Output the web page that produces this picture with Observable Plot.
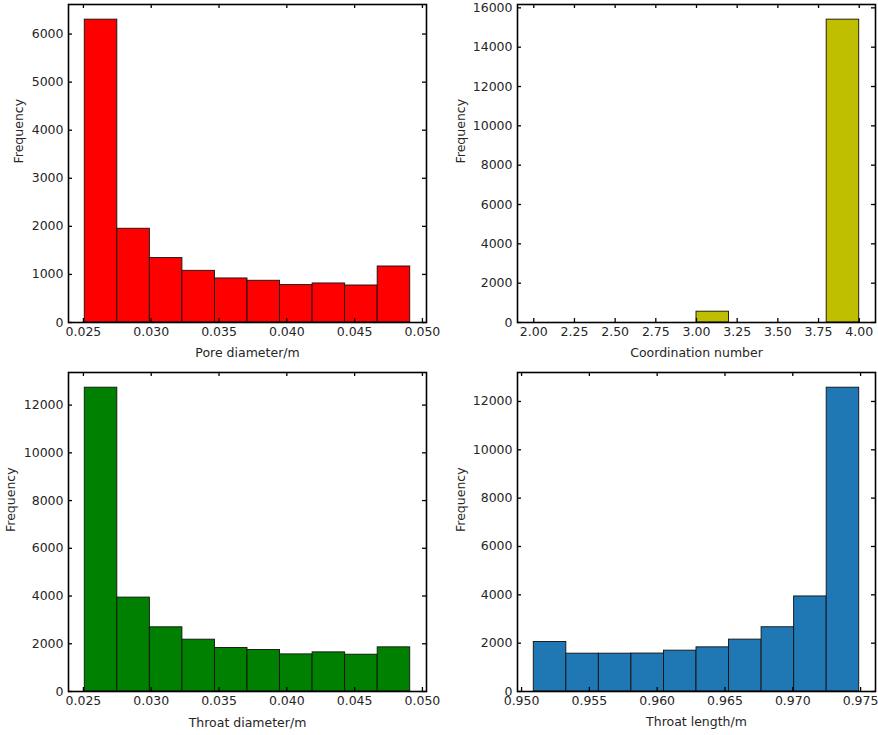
<!DOCTYPE html>
<html>
<head>
<meta charset="utf-8">
<script src="https://cdn.jsdelivr.net/npm/d3@7"></script>
<script src="https://cdn.jsdelivr.net/npm/@observablehq/plot@0.6"></script>
<style>
  html, body { margin: 0; padding: 0; background: #ffffff; }
  #wrap { position: relative; width: 878px; height: 735px; font-family: "DejaVu Sans", sans-serif; }
  #wrap svg { position: absolute; }
</style>
</head>
<body>
<div id="wrap"></div>
<script>
// ---- Data ----
const poreEdges = [0.0251, 0.0275, 0.0299, 0.0323, 0.0347, 0.0371, 0.0395, 0.0419, 0.0443, 0.0467, 0.0491];
const poreCounts = [6300, 1950, 1340, 1075, 916, 868, 778, 812, 770, 1165];
const poreXTicks = [0.025, 0.030, 0.035, 0.040, 0.045, 0.050];
const poreYTicks = [0, 1000, 2000, 3000, 4000, 5000, 6000];

const coordEdges = [2.0, 2.2, 2.4, 2.6, 2.8, 3.0, 3.2, 3.4, 3.6, 3.8, 4.0];
const coordCounts = [0, 0, 0, 0, 0, 550, 0, 0, 0, 15400];
const coordXTicks = [2.00, 2.25, 2.50, 2.75, 3.00, 3.25, 3.50, 3.75, 4.00];
const coordYTicks = [0, 2000, 4000, 6000, 8000, 10000, 12000, 14000, 16000];

const throatDiamEdges = [0.0251, 0.0275, 0.0299, 0.0323, 0.0347, 0.0371, 0.0395, 0.0419, 0.0443, 0.0467, 0.0491];
const throatDiamCounts = [12730, 3935, 2690, 2172, 1823, 1740, 1555, 1640, 1542, 1850];
const throatDiamXTicks = [0.025, 0.030, 0.035, 0.040, 0.045, 0.050];
const throatDiamYTicks = [0, 2000, 4000, 6000, 8000, 10000, 12000];

const throatLenEdges = [0.9509, 0.9533, 0.9557, 0.9581, 0.9605, 0.9629, 0.9653, 0.9677, 0.9701, 0.9725, 0.9749];
const throatLenCounts = [2050, 1565, 1565, 1570, 1690, 1827, 2147, 2658, 3933, 12570];
const throatLenXTicks = [0.950, 0.955, 0.960, 0.965, 0.970, 0.975];
const throatLenYTicks = [0, 2000, 4000, 6000, 8000, 10000, 12000];

const xLabels = ["Pore diameter/m", "Coordination number", "Throat diameter/m", "Throat length/m"];
const yLabel = "Frequency";

// ---- Layout ----
const panels = [
  {edges: poreEdges, counts: poreCounts, xTicks: poreXTicks, yTicks: poreYTicks, xFmt: ".3f", xLabel: xLabels[0],
   fill: "#ff0000", left: 0, top: 0, width: 439, height: 365, ml: 68, mr: 13, mt: 4, mb: 43, yLabelX: 18.4, xLabelDy: 30},
  {edges: coordEdges, counts: coordCounts, xTicks: coordXTicks, yTicks: coordYTicks, xFmt: ".2f", xLabel: xLabels[1],
   fill: "#bfbf00", left: 439, top: 0, width: 439, height: 365, ml: 78, mr: 3, mt: 4, mb: 43, yLabelX: 460.5, xLabelDy: 30},
  {edges: throatDiamEdges, counts: throatDiamCounts, xTicks: throatDiamXTicks, yTicks: throatDiamYTicks, xFmt: ".3f", xLabel: xLabels[2],
   fill: "#008000", left: 0, top: 365, width: 439, height: 370, ml: 68, mr: 13, mt: 7, mb: 44, yLabelX: 10.5, xLabelDy: 31},
  {edges: throatLenEdges, counts: throatLenCounts, xTicks: throatLenXTicks, yTicks: throatLenYTicks, xFmt: ".3f", xLabel: xLabels[3],
   fill: "#1f77b4", left: 439, top: 365, width: 439, height: 370, ml: 78, mr: 3, mt: 7, mb: 44, yLabelX: 460.5, xLabelDy: 30}
];

const textColor = "#262626";
const fontSize = 12.5;
const wrap = document.getElementById("wrap");

for (const p of panels) {
  const bins = p.counts.map((c, i) => ({x1: p.edges[i], x2: p.edges[i + 1], count: c})).filter(d => d.count > 0);
  const lo = p.edges[0], hi = p.edges[p.edges.length - 1];
  const pad = (hi - lo) * 0.05;
  const ymax = d3.max(p.counts) * 1.05;
  const fw = p.width - p.ml - p.mr;
  const fh = p.height - p.mt - p.mb;
  const tickLen = 4;

  const chart = Plot.plot({
    width: p.width,
    height: p.height,
    marginLeft: p.ml,
    marginRight: p.mr,
    marginTop: p.mt,
    marginBottom: p.mb,
    style: {fontFamily: "DejaVu Sans, sans-serif", fontSize: fontSize + "px", color: textColor, background: "transparent", overflow: "visible"},
    x: {domain: [lo - pad, hi + pad]},
    y: {domain: [0, ymax]},
    marks: [
      Plot.rectY(bins, {x1: "x1", x2: "x2", y1: 0, y2: "count", fill: p.fill, stroke: "#111", strokeWidth: 0.9}),
      // inward ticks on all four sides
      Plot.ruleX(p.xTicks, {x: d => d, insetTop: fh - tickLen, stroke: "black", strokeWidth: 1.3}),
      Plot.ruleX(p.xTicks, {x: d => d, insetBottom: fh - tickLen, stroke: "black", strokeWidth: 1.3}),
      Plot.ruleY(p.yTicks, {y: d => d, insetRight: fw - tickLen, stroke: "black", strokeWidth: 1.3}),
      Plot.ruleY(p.yTicks, {y: d => d, insetLeft: fw - tickLen, stroke: "black", strokeWidth: 1.3}),
      Plot.frame({stroke: "black", strokeWidth: 1.6}),
      Plot.axisX(p.xTicks, {tickSize: 0, tickPadding: 5, tickFormat: d3.format(p.xFmt), label: null, fill: textColor, fontSize}),
      Plot.axisY(p.yTicks, {tickSize: 0, tickPadding: 5, tickFormat: d3.format("d"), label: null, fill: textColor, fontSize}),
      Plot.text([p.xLabel], {text: d => d, frameAnchor: "bottom", dy: p.xLabelDy, lineAnchor: "middle", fill: textColor, fontSize}),
      Plot.text([yLabel], {text: d => d, frameAnchor: "left", rotate: -90, dx: p.yLabelX - (p.left + p.ml), lineAnchor: "middle", fill: textColor, fontSize})
    ]
  });
  chart.style.left = p.left + "px";
  chart.style.top = p.top + "px";
  wrap.appendChild(chart);
}
</script>
</body>
</html>
